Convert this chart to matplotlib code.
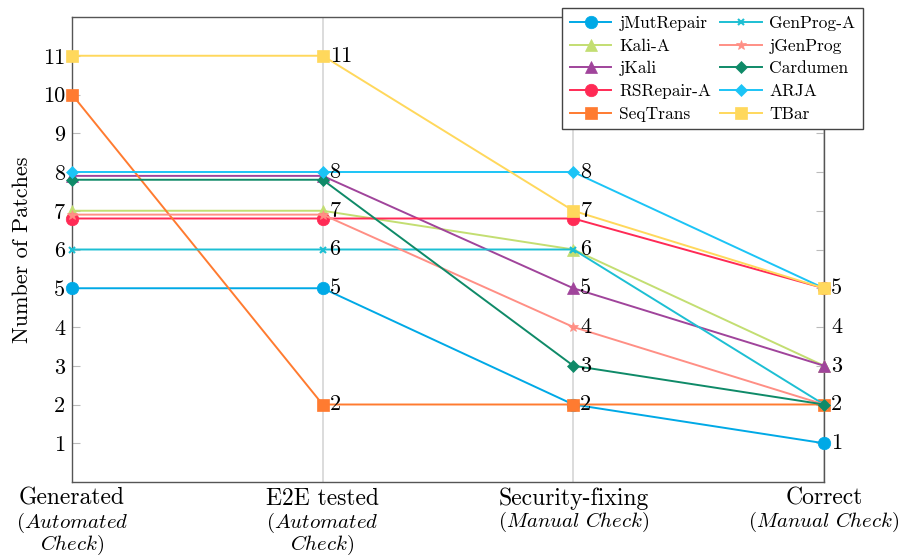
import matplotlib
matplotlib.use("Agg")
import matplotlib.pyplot as plt

plt.rcParams['font.family'] = ['cmr10', 'DejaVu Serif']
plt.rcParams['mathtext.fontset'] = 'cm'
plt.rcParams['axes.formatter.use_mathtext'] = True

# pipeline stages
stages = ["Generated", "E2E tested", "Security-fixing", "Correct"]
stage_notes = [r"$\mathit{(Automated}$" + "\n" + r"$\mathit{Check)}$",
               r"$\mathit{(Automated}$" + "\n" + r"$\mathit{Check)}$",
               r"$\mathit{(Manual\ Check)}$",
               r"$\mathit{(Manual\ Check)}$"]

# patches left after each stage (small offsets keep overlapping lines apart)
jmutrepair = [5, 5, 2, 1]
kali_a = [7, 7, 6, 3]
jkali = [7.9, 7.9, 5, 3]
rsrepair_a = [6.8, 6.8, 6.8, 5]
seqtrans = [10, 2, 2, 2]
genprog_a = [6, 6, 6, 2]
jgenprog = [6.9, 6.9, 4, 2]
cardumen = [7.8, 7.8, 3, 2]
arja = [8, 8, 8, 5]
tbar = [11, 11, 7, 5]

# value labels printed beside the stage columns
labels_e2e = [11, 8, 7, 6, 5, 2]
labels_security = [8, 7, 6, 5, 4, 3, 2]
labels_correct = [5, 4, 3, 2, 1]

series = [
    ("jMutRepair", jmutrepair, "#00A9E6", "o", 9),
    ("Kali-A", kali_a, "#C3DE72", "^", 8),
    ("jKali", jkali, "#A0449B", "^", 8),
    ("RSRepair-A", rsrepair_a, "#FF2A55", "o", 9),
    ("SeqTrans", seqtrans, "#FF7B30", "s", 8),
    ("GenProg-A", genprog_a, "#1DBFD3", "x", 5),
    ("jGenProg", jgenprog, "#FF8F85", "*", 7),
    ("Cardumen", cardumen, "#0F8A68", "D", 6),
    ("ARJA", arja, "#1CC4F6", "D", 6),
    ("TBar", tbar, "#FFD85C", "s", 9),
]

fig = plt.figure(figsize=(9.04, 5.55), dpi=100)
ax = fig.add_axes([72 / 904, 1 - 482 / 555, 752 / 904, 465 / 555])

x = list(range(len(stages)))
for name, vals, color, marker, ms in series:
    ax.plot(x, vals, color=color, lw=1.4, marker=marker, markersize=ms,
            markeredgewidth=1.5 if marker == "x" else 0.5,
            markeredgecolor=color, label=name, clip_on=False, zorder=3)

for xi, labs in zip([1, 2, 3], [labels_e2e, labels_security, labels_correct]):
    for v in labs:
        ax.annotate(str(v), (xi, v), xytext=(5, 0), textcoords="offset points",
                    va="center", ha="left", fontsize=16, zorder=5)

ax.set_xlim(0, 3)
ax.set_ylim(0, 12)
ax.set_xticks(x)
ax.set_xticklabels(stages, fontsize=17)
# italic check type under each stage name
for xi, note in zip(x, stage_notes):
    ax.annotate(note, (xi, 0), xycoords=("data", "axes fraction"),
                xytext=(0, -20), textcoords="offset points",
                ha="center", va="top", fontsize=15, linespacing=0.92,
                annotation_clip=False)
ax.set_yticks(range(1, 12))
ax.set_yticklabels([str(i) for i in range(1, 12)], fontsize=16)
ax.tick_params(axis="y", direction="in", length=6, color="#bbbbbb",
               right=True, pad=5)
ax.tick_params(axis="x", length=0, pad=4)
ax.grid(axis="x", color="#d6d6d6", lw=1.2, zorder=0)
for sp in ax.spines.values():
    sp.set_color("#555555")
    sp.set_linewidth(1.0)
ax.set_ylabel("Number of Patches", fontsize=16, labelpad=8)

leg = ax.legend(ncol=2, loc="upper left", bbox_to_anchor=(562 / 904, 1 - 8 / 555),
                bbox_transform=fig.transFigure, fontsize=12.5, frameon=True,
                fancybox=False, edgecolor="#444444", framealpha=1,
                handlelength=2.4, columnspacing=0.5, labelspacing=0.42,
                borderpad=0.45, handletextpad=0.45, borderaxespad=0)
leg.get_frame().set_linewidth(1.0)
leg.set_zorder(10)

fig.savefig("out.png", dpi=100)
